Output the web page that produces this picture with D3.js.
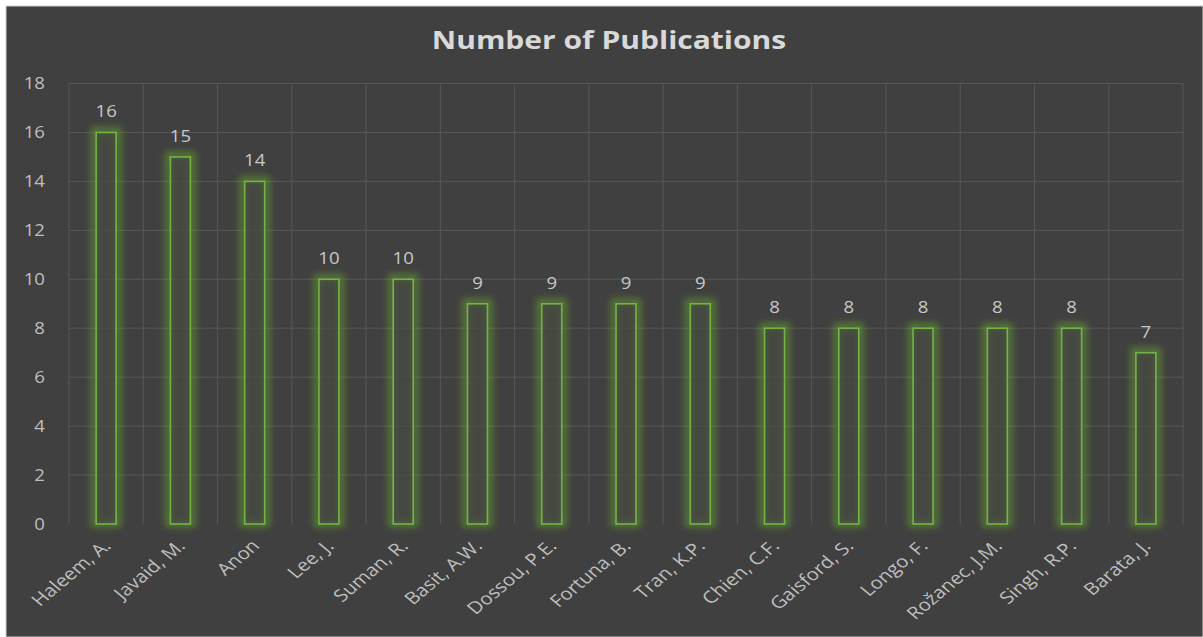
<!DOCTYPE html>
<html>
<head>
<meta charset="utf-8">
<script src="https://cdn.jsdelivr.net/npm/d3@7"></script>
<style>
  html, body { margin: 0; padding: 0; background: #ffffff; }
  svg { display: block; }
</style>
</head>
<body>
<svg id="chart" width="1203" height="637"></svg>
<script>
// Publications per author
const authors = ["Haleem, A.", "Javaid, M.", "Anon", "Lee, J.", "Suman, R.", "Basit, A.W.", "Dossou, P.E.", "Fortuna, B.", "Tran, K.P.", "Chien, C.F.", "Gaisford, S.", "Longo, F.", "Rožanec, J.M.", "Singh, R.P.", "Barata, J."];
const publications = [16, 15, 14, 10, 10, 9, 9, 9, 9, 8, 8, 8, 8, 8, 7];
const yTicks = [0, 2, 4, 6, 8, 10, 12, 14, 16, 18];

const svg = d3.select("#chart");
const W = 1203, H = 637;
const FONT = "Open Sans, sans-serif";
const SX = 1.2; // wide text proportion used throughout the chart

// chart background panel
svg.append("rect").attr("x", 0).attr("y", 0).attr("width", W).attr("height", H).attr("fill", "#ffffff");
svg.append("rect").attr("x", 6).attr("y", 6).attr("width", W - 6).attr("height", H - 6)
  .attr("fill", "#404040").attr("stroke", "#d0d0d0").attr("stroke-width", 1);

const defs = svg.append("defs");
const glow = defs.append("filter").attr("id", "glow")
  .attr("x", "-100%").attr("y", "-20%").attr("width", "300%").attr("height", "140%");
glow.append("feGaussianBlur").attr("stdDeviation", 3.5);

const x = d3.scaleBand().domain(authors).range([69, 1183]).paddingInner(0).paddingOuter(0);
const y = d3.scaleLinear().domain([0, 18]).range([524, 83.5]);

// horizontal gridlines
svg.append("g").selectAll("line").data(yTicks.slice(1)).join("line")
  .attr("x1", x.range()[0]).attr("x2", x.range()[1])
  .attr("y1", d => y(d)).attr("y2", d => y(d))
  .attr("stroke", "#575757").attr("stroke-width", 1);

// vertical gridlines at category boundaries
const bounds = authors.map(a => x(a)).concat([x(authors[authors.length - 1]) + x.bandwidth()]);
svg.append("g").selectAll("line").data(bounds).join("line")
  .attr("x1", d => d).attr("x2", d => d)
  .attr("y1", y(18)).attr("y2", y(0))
  .attr("stroke", "#575757").attr("stroke-width", 1);

// y axis
const yAxis = d3.axisLeft(y).tickValues(yTicks).tickSize(0).tickPadding(0);
const gy = svg.append("g").attr("transform", "translate(45,0)").call(yAxis);
gy.select(".domain").remove();
gy.selectAll(".tick text")
  .attr("x", 0).attr("dy", "0.35em")
  .attr("transform", `scale(${SX},1)`)
  .attr("fill", "#bfbfbf").attr("font-family", FONT).attr("font-size", 15.5);

// bars
const barW = 20;
const bars = svg.append("g");
const data = authors.map((a, i) => ({ a, v: publications[i] }));
bars.selectAll("rect.glow").data(data).join("rect").attr("class", "glow")
  .attr("x", d => x(d.a) + x.bandwidth() / 2 - barW / 2 - 2)
  .attr("y", d => y(d.v) - 2)
  .attr("width", barW + 4)
  .attr("height", d => y(0) - y(d.v) + 2)
  .attr("fill", "none").attr("stroke", "#6fbf2a").attr("stroke-width", 6)
  .attr("stroke-opacity", 0.5)
  .attr("filter", "url(#glow)");
bars.selectAll("rect.bar").data(data).join("rect").attr("class", "bar")
  .attr("x", d => x(d.a) + x.bandwidth() / 2 - barW / 2)
  .attr("y", d => y(d.v))
  .attr("width", barW)
  .attr("height", d => y(0) - y(d.v))
  .attr("fill", "#474b42").attr("fill-opacity", 0.7)
  .attr("stroke", "#74b444").attr("stroke-width", 1.6);

// value labels
svg.append("g").selectAll("text").data(data).join("text")
  .attr("transform", d => `translate(${x(d.a) + x.bandwidth() / 2},${y(d.v) - 15}) scale(${SX},1)`)
  .attr("text-anchor", "middle")
  .attr("fill", "#c8c8c8").attr("font-family", FONT).attr("font-size", 15.5)
  .text(d => d.v);

// category labels, rotated
svg.append("g").selectAll("text").data(authors).join("text")
  .attr("transform", d => `translate(${x(d) + x.bandwidth() / 2 + 6},547) scale(${SX},1) rotate(-45)`)
  .attr("text-anchor", "end")
  .attr("fill", "#bfbfbf").attr("font-family", FONT).attr("font-size", 17)
  .text(d => d);

// title
svg.append("text")
  .attr("transform", `translate(609,49) scale(${SX},1)`)
  .attr("text-anchor", "middle")
  .attr("fill", "#d9d9d9").attr("font-family", FONT).attr("font-weight", "bold")
  .attr("font-size", 25).text("Number of Publications");
</script>
</body>
</html>
